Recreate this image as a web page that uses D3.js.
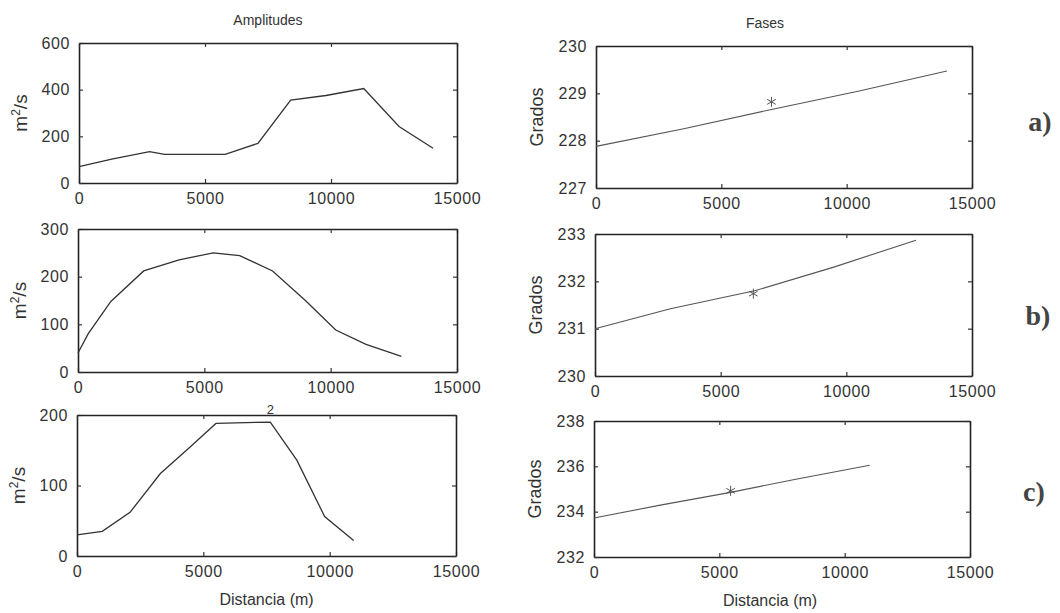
<!DOCTYPE html>
<html>
<head>
<meta charset="utf-8">
<script src="https://cdn.jsdelivr.net/npm/d3@7"></script>
<style>
  body { margin: 0; background: #fff; }
  svg text { fill: #333; }
</style>
</head>
<body>
<svg id="chart" width="1060" height="613"></svg>
<script>
// distances (m) and values
const distA = [0, 1300, 2800, 3400, 5800, 7100, 8400, 9800, 11300, 12700, 14050];
const ampA = [70, 102, 134, 123, 123, 170, 355, 375, 405, 242, 149];

const distB = [0, 400, 1300, 2600, 4000, 5350, 6400, 7700, 9000, 10200, 11400, 12800];
const ampB = [40, 80, 148, 212, 235, 250, 244, 212, 150, 88, 58, 33];

const distC = [0, 1000, 2100, 3300, 4400, 5500, 7650, 8700, 9800, 10950];
const ampC = [30, 35, 62, 117, 152, 188, 190, 136, 56, 22];

const distFA = [0, 3500, 7000, 10500, 14000];
const faseA = [227.88, 228.25, 228.66, 229.05, 229.47];
const starA = [7000, 228.82];

const distFB = [0, 3000, 6350, 9500, 12770];
const faseB = [231.0, 231.42, 231.8, 232.3, 232.87];
const starB = [6300, 231.74];

const distFC = [0, 2700, 5450, 8000, 11000];
const faseC = [233.72, 234.3, 234.85, 235.42, 236.05];
const starC = [5450, 234.92];

const xTicks = [0, 5000, 10000, 15000];
const ampTicksA = [0, 200, 400, 600];
const ampTicksB = [0, 100, 200, 300];
const ampTicksC = [0, 100, 200];
const faseTicksA = [227, 228, 229, 230];
const faseTicksB = [230, 231, 232, 233];
const faseTicksC = [232, 234, 236, 238];
const rowLabels = ["a)", "b)", "c)"];

const sans = "\"Liberation Sans\", Arial, sans-serif";
const svg = d3.select("#chart");

const panels = [
  { box: [79, 457, 43, 183], x: distA, y: ampA, ticks: ampTicksA, ylab: "amp" },
  { box: [78, 457, 229, 372], x: distB, y: ampB, ticks: ampTicksB, ylab: "amp" },
  { box: [77, 456, 415, 556], x: distC, y: ampC, ticks: ampTicksC, ylab: "amp", xlab: true, note: true },
  { box: [596, 972, 46, 188], x: distFA, y: faseA, ticks: faseTicksA, ylab: "fase", star: starA },
  { box: [595, 972, 234, 376], x: distFB, y: faseB, ticks: faseTicksB, ylab: "fase", star: starB },
  { box: [594, 970, 421, 557], x: distFC, y: faseC, ticks: faseTicksC, ylab: "fase", star: starC, xlab: true },
];

panels.forEach((p) => {
  const [x0, x1, y0, y1] = p.box;
  const xScale = d3.scaleLinear().domain([0, 15000]).range([x0, x1]);
  const yScale = d3.scaleLinear()
    .domain([p.ticks[0], p.ticks[p.ticks.length - 1]])
    .range([y1, y0]);

  const g = svg.append("g");

  // bottom / left axes with labels, ticks pointing in
  g.append("g")
    .attr("transform", `translate(0,${y1})`)
    .call(d3.axisBottom(xScale).tickValues(xTicks).tickFormat(d3.format("d")).tickSizeInner(-4).tickSizeOuter(0).tickPadding(10));
  g.append("g")
    .attr("transform", `translate(${x0},0)`)
    .call(d3.axisLeft(yScale).tickValues(p.ticks).tickFormat(d3.format("d")).tickSizeInner(-4).tickSizeOuter(0).tickPadding(9));
  // top / right, ticks only
  g.append("g")
    .attr("transform", `translate(0,${y0})`)
    .call(d3.axisTop(xScale).tickValues(xTicks).tickFormat("").tickSizeInner(-4).tickSizeOuter(0));
  g.append("g")
    .attr("transform", `translate(${x1},0)`)
    .call(d3.axisRight(yScale).tickValues(p.ticks).tickFormat("").tickSizeInner(-4).tickSizeOuter(0));

  g.selectAll(".domain").attr("stroke", "#222").attr("stroke-width", 1.6);
  g.selectAll(".tick line").attr("stroke", "#333").attr("stroke-width", 1.2);
  g.selectAll(".tick text")
    .attr("font-size", 16)
    .attr("letter-spacing", "0.6px")
    .attr("fill", "#333")
    .style("font-family", sans);

  const line = d3.line()
    .x((d, i) => xScale(p.x[i]))
    .y((d) => yScale(d));

  g.append("path")
    .attr("d", line(p.y))
    .attr("fill", "none")
    .attr("stroke", p.ylab === "amp" ? "#333" : "#555")
    .attr("stroke-width", p.ylab === "amp" ? 1.3 : 1.1);

  if (p.star) {
    g.append("path")
      .attr("d", d3.symbol(d3.symbolAsterisk, 70)())
      .attr("transform", `translate(${xScale(p.star[0])},${yScale(p.star[1])})`)
      .attr("fill", "none")
      .attr("stroke", "#555")
      .attr("stroke-width", 1);
  }

  // y axis title
  const yl = g.append("text")
    .attr("transform", `translate(${x0 - (p.ylab === "amp" ? 52 : 53)},${(y0 + y1) / 2}) rotate(-90)`)
    .attr("text-anchor", "middle")
    .attr("font-size", p.ylab === "amp" ? 19 : 18)
    .style("font-family", sans);
  if (p.ylab === "amp") {
    yl.append("tspan").text("m");
    yl.append("tspan").attr("dy", -7).attr("font-size", 12).text("2");
    yl.append("tspan").attr("dy", 7).text("/s");
  } else {
    yl.text("Grados");
  }

  if (p.xlab) {
    g.append("text")
      .attr("x", p.ylab === "amp" ? (x0 + x1) / 2 : (x0 + x1) / 2 - 12)
      .attr("y", y1 + 49)
      .attr("text-anchor", "middle")
      .attr("font-size", 16)
      .style("font-family", sans)
      .text("Distancia (m)");
  }

  if (p.note) {
    g.append("text")
      .attr("x", xScale(7650))
      .attr("y", y0 - 1)
      .attr("text-anchor", "middle")
      .attr("font-size", 13)
      .style("font-family", sans)
      .text("2");
  }
});

// column titles
svg.append("text").attr("x", 268).attr("y", 25).attr("text-anchor", "middle")
  .attr("font-size", 14).style("font-family", sans).text("Amplitudes");
svg.append("text").attr("x", 765).attr("y", 28).attr("text-anchor", "middle")
  .attr("font-size", 14).style("font-family", sans).text("Fases");

// row letters
const letterPos = [[1040, 131], [1038, 325], [1034, 501]];
rowLabels.forEach((t, i) => {
  svg.append("text")
    .attr("x", letterPos[i][0])
    .attr("y", letterPos[i][1])
    .attr("text-anchor", "middle")
    .attr("font-weight", "bold")
    .attr("font-size", 28)
    .style("font-family", "\"Liberation Serif\", \"DejaVu Serif\", serif")
    .style("fill", "#444")
    .text(t);
});
</script>
</body>
</html>
